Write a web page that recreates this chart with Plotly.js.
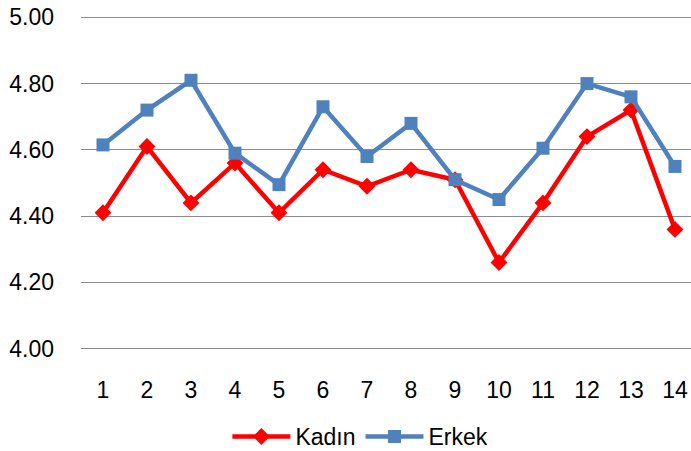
<!DOCTYPE html>
<html>
<head>
<meta charset="utf-8">
<script src="https://cdn.plot.ly/plotly-3.0.1.min.js"></script>
<style>html,body{margin:0;padding:0;background:#fff;}</style>
</head>
<body>
<div id="chart" style="width:691px;height:451px;"></div>
<script>
const categories = [1,2,3,4,5,6,7,8,9,10,11,12,13,14];
const kadin = [4.41,4.61,4.44,4.56,4.41,4.54,4.49,4.54,4.51,4.26,4.44,4.64,4.72,4.36];
const erkek = [4.615,4.72,4.81,4.59,4.495,4.73,4.58,4.68,4.51,4.45,4.605,4.80,4.76,4.55];
const yTicks = [4.00,4.20,4.40,4.60,4.80,5.00];
const yTickText = yTicks.map(v => v.toFixed(2));

const font = {family: '"Liberation Sans", Arial, sans-serif', size: 23, color: '#000'};

const traces = [
  {x: categories, y: kadin, name: 'Kadın', type: 'scatter', mode: 'lines+markers',
   line: {color: '#FF0000', width: 4.5},
   marker: {symbol: 'diamond', size: 13, color: '#FF0000'}},
  {x: categories, y: erkek, name: 'Erkek', type: 'scatter', mode: 'lines+markers',
   line: {color: '#4F81BD', width: 4.5},
   marker: {symbol: 'square', size: 13, color: '#4F81BD'}}
];

const layout = {
  width: 691, height: 451,
  margin: {l: 81, r: 0, t: 14, b: 99, autoexpand: false},
  paper_bgcolor: '#fff', plot_bgcolor: '#fff',
  font: font,
  showlegend: true,
  legend: {orientation: 'h', x: 0.458, xanchor: 'center', y: -0.25, yanchor: 'middle',
           font: font, itemwidth: 58, traceorder: 'normal'},
  xaxis: {range: [0.5, 14.364], tickvals: categories, ticktext: categories.map(String),
          showgrid: false, zeroline: false, showline: false, ticks: '',
          tickfont: font, ticklabelstandoff: 22, fixedrange: true},
  yaxis: {range: [3.99, 5.01], tickvals: yTicks, ticktext: yTickText,
          showgrid: true, gridcolor: '#8c8c8c', gridwidth: 1,
          zeroline: false, showline: false, ticks: '',
          tickfont: font, ticklabelstandoff: 26, fixedrange: true}
};

Plotly.newPlot('chart', traces, layout, {displayModeBar: false, staticPlot: true});
</script>
</body>
</html>
